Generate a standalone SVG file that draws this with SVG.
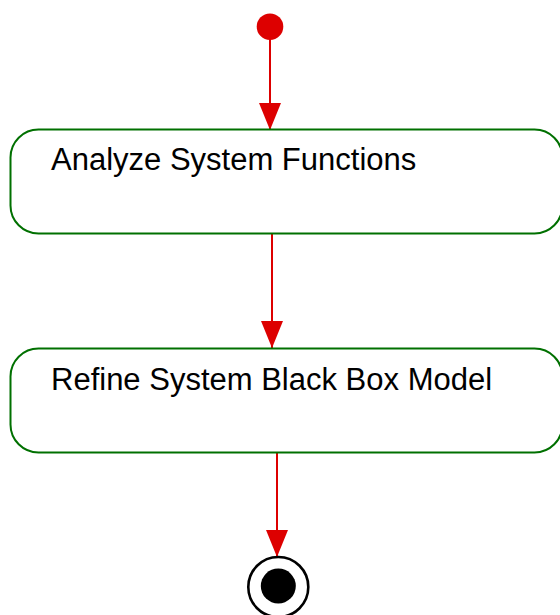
<svg xmlns="http://www.w3.org/2000/svg" width="560" height="615" viewBox="0 0 560 615">
  <style>
    .action { fill: #ffffff; stroke: #007000; stroke-width: 2; }
    .label { font-family: "Liberation Sans", Arial, sans-serif; font-size: 31px; fill: #000000; }
    .flow { stroke: #dd0000; stroke-width: 2; fill: none; }
  </style>
  <defs>
    <marker id="arrow" markerUnits="userSpaceOnUse" markerWidth="27" markerHeight="22" refX="27" refY="11" viewBox="0 0 27 22" orient="auto">
      <path d="M0,0 L27,11 L0,22 Z" fill="#dd0000"/>
    </marker>
  </defs>
  <rect width="560" height="615" fill="#ffffff"/>

  <!-- control flows -->
  <g id="connectors">
    <line class="flow" x1="270" y1="38" x2="270" y2="130" marker-end="url(#arrow)"/>
    <line class="flow" x1="272" y1="233.5" x2="272" y2="348" marker-end="url(#arrow)"/>
    <line class="flow" x1="277" y1="452.5" x2="277" y2="557" marker-end="url(#arrow)"/>
  </g>

  <!-- initial node -->
  <g id="initial">
    <circle cx="270" cy="26.7" r="13.3" fill="#dd0000"/>
  </g>

  <g id="analyze-system-functions">
    <rect class="action" x="10.5" y="129.5" width="552" height="104" rx="28" ry="28"/>
    <text class="label" x="51" y="170">Analyze System Functions</text>
  </g>

  <g id="refine-black-box-model">
    <rect class="action" x="10.5" y="348.5" width="552" height="104" rx="28" ry="28"/>
    <text class="label" x="51" y="389.5">Refine System Black Box Model</text>
  </g>

  <!-- final node -->
  <g id="final">
    <circle cx="278.3" cy="587" r="30" fill="#ffffff" stroke="#000000" stroke-width="2.6"/>
    <circle cx="278.3" cy="586" r="17.5" fill="#000000"/>
  </g>
</svg>
